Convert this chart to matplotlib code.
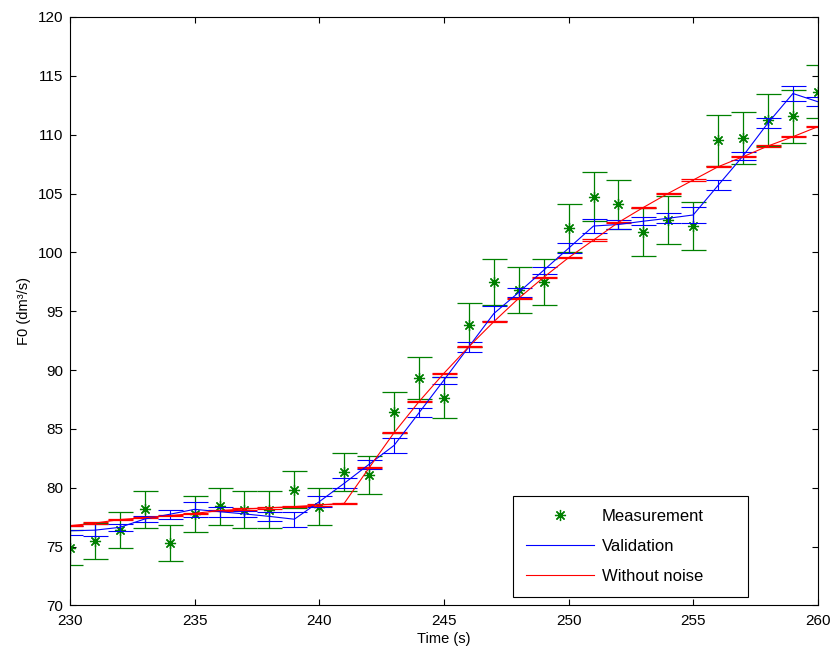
import matplotlib
matplotlib.use("Agg")
import matplotlib.pyplot as plt
from matplotlib.lines import Line2D

plt.rcParams['font.family'] = ['Liberation Sans', 'DejaVu Sans']
plt.rcParams['font.size'] = 10

# Time axis (s)
time = list(range(230, 261))

# Measured F0 and its uncertainty
measurement = [74.9, 75.5, 76.45, 78.17, 75.3, 77.77, 78.45, 78.15, 78.15, 79.85,
               78.4, 81.35, 81.1, 86.4, 89.3, 87.65, 93.85, 97.5, 96.8, 97.45,
               102.1, 104.73, 104.07, 101.73, 102.73, 102.22, 109.52, 109.75, 111.25, 111.55,
               113.65]
measurement_err = [1.50, 1.51, 1.53, 1.56, 1.51, 1.56, 1.57, 1.56, 1.56, 1.60,
                   1.57, 1.63, 1.62, 1.73, 1.79, 1.75, 1.88, 1.95, 1.94, 1.95,
                   2.04, 2.09, 2.08, 2.03, 2.05, 2.04, 2.19, 2.20, 2.23, 2.23,
                   2.27]

# Validation estimate and its uncertainty
validation = [76.35, 76.4, 76.64, 77.35, 77.75, 78.17, 77.97, 77.78, 77.57, 77.33,
              78.82, 80.38, 82.0, 83.6, 86.37, 89.15, 91.98, 94.8, 96.6, 98.48,
              100.35, 102.24, 102.37, 102.65, 102.9, 103.18, 105.7, 108.2, 111.0, 113.5,
              112.8]
validation_err = [0.40, 0.50, 0.32, 0.28, 0.37, 0.62, 0.43, 0.29, 0.40, 0.63,
                  0.48, 0.42, 0.38, 0.61, 0.38, 0.29, 0.42, 0.64, 0.40, 0.31,
                  0.43, 0.61, 0.38, 0.33, 0.43, 0.70, 0.43, 0.31, 0.43, 0.67,
                  0.40]

# Estimate without noise and its uncertainty
no_noise = [76.78, 77.0, 77.3, 77.46, 77.63, 77.83, 78.06, 78.2, 78.3, 78.4,
            78.54, 78.68, 81.7, 84.68, 87.32, 89.73, 91.99, 94.11, 96.1, 97.88,
            99.55, 101.05, 102.55, 103.82, 105.02, 106.15, 107.28, 108.13, 109.04, 109.83,
            110.68]
no_noise_err = [0.06] * len(time)

labels = ["Measurement", "Validation", "Without noise"]
green = (0.0, 0.5, 0.0)
blue = (0.0, 0.0, 1.0)
red = (1.0, 0.0, 0.0)
asterisk = (8, 2, 0)

fig = plt.figure(figsize=(8.31, 6.51), dpi=100)
ax = fig.add_axes([0.0842, 0.0699, 0.9000, 0.9040])

cap = 9
ax.errorbar(time, measurement, yerr=measurement_err, fmt='none', ecolor=green,
            elinewidth=0.9, capsize=cap, capthick=0.9)
ax.plot(time, measurement, linestyle='none', marker=asterisk, color=green,
        markersize=8, markeredgewidth=0.9)

ax.errorbar(time, validation, yerr=validation_err, color=blue, linewidth=0.8,
            elinewidth=0.8, capsize=cap, capthick=0.8)

ax.errorbar(time, no_noise, yerr=no_noise_err, color=red, linewidth=0.8,
            elinewidth=0.8, capsize=cap, capthick=0.9)

ax.set_xlim(230, 260)
ax.set_ylim(70, 120)
ax.set_xticks(range(230, 261, 5))
ax.set_yticks(range(70, 121, 5))
ax.tick_params(direction='in', length=4, width=0.8, top=True, right=True,
               labelsize=11, colors='black')
ax.tick_params(axis='x', pad=6)
ax.tick_params(axis='y', pad=5)
for s in ax.spines.values():
    s.set_linewidth(0.8)
ax.set_xlabel("Time (s)", fontsize=10.5, labelpad=3)
ax.set_ylabel("F0 (dm³/s)", fontsize=10.5, labelpad=5)

handles = [
    Line2D([], [], linestyle='none', marker=asterisk, color=green, markersize=8, markeredgewidth=0.9),
    Line2D([], [], color=blue, linewidth=0.8),
    Line2D([], [], color=red, linewidth=0.8),
]
leg = ax.legend(handles, labels, loc='lower left', bbox_to_anchor=(0.592, 0.0144, 0.314, 0.17),
                mode='expand', fancybox=False, framealpha=1, edgecolor='black',
                handlelength=4.1, handletextpad=0.45, labelspacing=0.9, borderaxespad=0,
                borderpad=0.78, numpoints=1, fontsize=12)
leg.get_frame().set_linewidth(0.8)

fig.savefig("out.png", dpi=100)
